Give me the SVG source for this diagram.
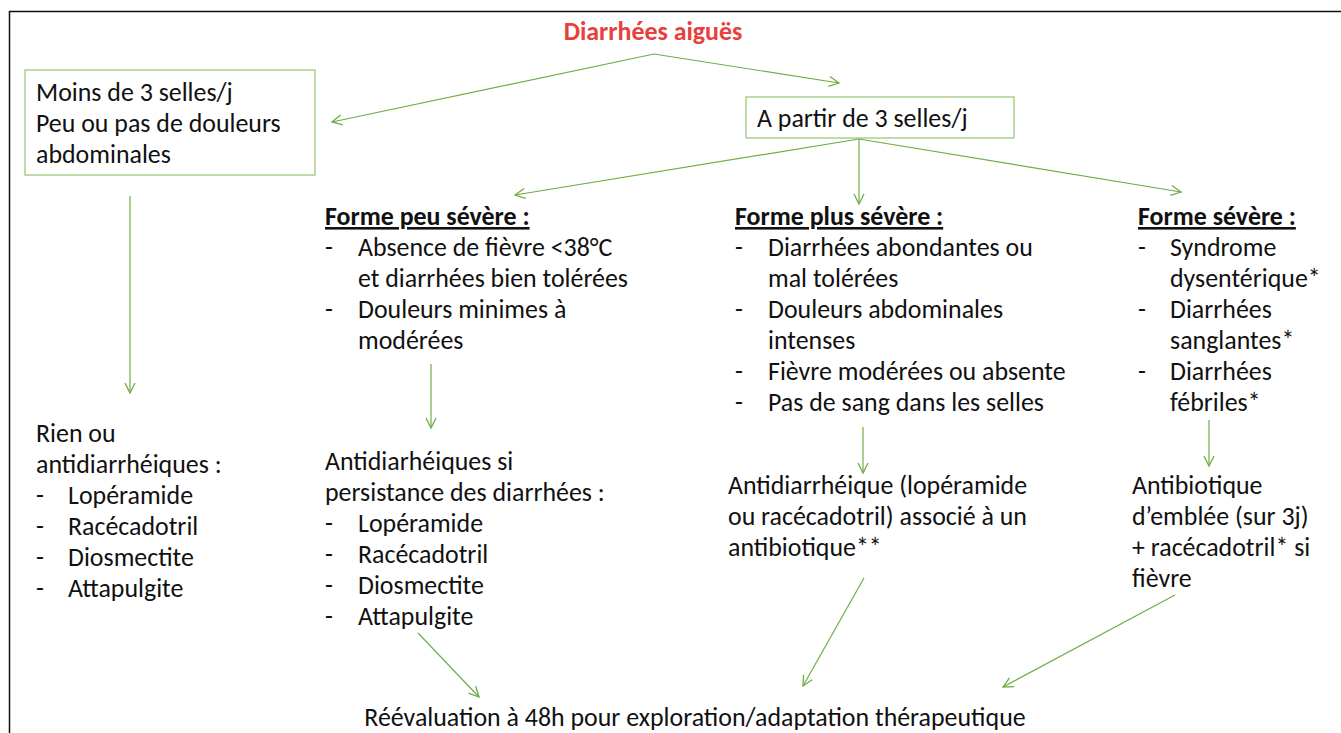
<svg xmlns="http://www.w3.org/2000/svg" width="1341" height="733" viewBox="0 0 1341 733">
<defs>
<marker id="arr" markerUnits="userSpaceOnUse" markerWidth="14" markerHeight="14" refX="11" refY="6" orient="auto">
<path d="M1,1 L11,6 L1,11" fill="none" stroke="#70AD47" stroke-width="1.3"/>
</marker>
<style>
text{font-family:Carlito,Lato,"Liberation Sans",sans-serif;font-size:25.9px;fill:#111;}
.b{font-weight:bold;}
.u{text-decoration:underline;}
.title{fill:#E8403C;font-weight:bold;}
.box{fill:none;stroke:#A9D18E;stroke-width:1.5;}
.c line{stroke:#70AD47;stroke-width:1.2;marker-end:url(#arr);}
</style>
</defs>
<rect width="1341" height="733" fill="#fff"/>
<path d="M9.5,733 V11.5 H1341" fill="none" stroke="#111" stroke-width="1.5"/>

<g id="title"><text class="title" x="653" y="40" text-anchor="middle">Diarrhées aiguës</text></g>

<g id="moins3">
<rect class="box" x="25" y="70" width="290" height="105"/>
<text x="36" y="101">Moins de 3 selles/j</text>
<text x="36" y="132">Peu ou pas de douleurs</text>
<text x="36" y="163">abdominales</text>
</g>

<g id="apartir3">
<rect class="box" x="746" y="97" width="268" height="41"/>
<text x="757" y="127">A partir de 3 selles/j</text>
</g>

<g id="rien">
<text x="36" y="442">Rien ou</text>
<text x="36" y="473">antidiarrhéiques :</text>
<text x="36" y="504">-</text><text x="68" y="504">Lopéramide</text>
<text x="36" y="535">-</text><text x="68" y="535">Racécadotril</text>
<text x="36" y="566">-</text><text x="68" y="566">Diosmectite</text>
<text x="36" y="597">-</text><text x="68" y="597">Attapulgite</text>
</g>

<g id="peusevere">
<text class="b u" x="325" y="225">Forme peu sévère :</text>
<text x="325" y="256">-</text><text x="358" y="256">Absence de fièvre &lt;38°C</text>
<text x="358" y="287">et diarrhées bien tolérées</text>
<text x="325" y="318">-</text><text x="358" y="318">Douleurs minimes à</text>
<text x="358" y="349">modérées</text>
</g>

<g id="peusevere-ttt">
<text x="325" y="470">Antidiarhéiques si</text>
<text x="325" y="501">persistance des diarrhées :</text>
<text x="325" y="532">-</text><text x="358" y="532">Lopéramide</text>
<text x="325" y="563">-</text><text x="358" y="563">Racécadotril</text>
<text x="325" y="594">-</text><text x="358" y="594">Diosmectite</text>
<text x="325" y="625">-</text><text x="358" y="625">Attapulgite</text>
</g>

<g id="plussevere">
<text class="b u" x="735" y="225">Forme plus sévère :</text>
<text x="735" y="256">-</text><text x="768" y="256">Diarrhées abondantes ou</text>
<text x="768" y="287">mal tolérées</text>
<text x="735" y="318">-</text><text x="768" y="318">Douleurs abdominales</text>
<text x="768" y="349">intenses</text>
<text x="735" y="380">-</text><text x="768" y="380">Fièvre modérées ou absente</text>
<text x="735" y="411">-</text><text x="768" y="411">Pas de sang dans les selles</text>
</g>

<g id="plussevere-ttt">
<text x="728" y="494">Antidiarrhéique (lopéramide</text>
<text x="728" y="525">ou racécadotril) associé à un</text>
<text x="728" y="556">antibiotique**</text>
</g>

<g id="severe">
<text class="b u" x="1138" y="225">Forme sévère :</text>
<text x="1138" y="256">-</text><text x="1170" y="256">Syndrome</text>
<text x="1170" y="287">dysentérique*</text>
<text x="1138" y="318">-</text><text x="1170" y="318">Diarrhées</text>
<text x="1170" y="349">sanglantes*</text>
<text x="1138" y="380">-</text><text x="1170" y="380">Diarrhées</text>
<text x="1170" y="411">fébriles*</text>
</g>

<g id="severe-ttt">
<text x="1132" y="494">Antibiotique</text>
<text x="1132" y="525">d’emblée (sur 3j)</text>
<text x="1132" y="556">+ racécadotril* si</text>
<text x="1132" y="587">fièvre</text>
</g>

<g id="reevaluation">
<text x="695" y="726" text-anchor="middle">Réévaluation à 48h pour exploration/adaptation thérapeutique</text>
</g>

<g id="connectors" class="c">
<line x1="654" y1="54" x2="332" y2="122"/>
<line x1="654" y1="54" x2="839" y2="83"/>
<line x1="859" y1="139" x2="515" y2="195"/>
<line x1="859" y1="139" x2="859" y2="204"/>
<line x1="859" y1="139" x2="1181" y2="192"/>
<line x1="130" y1="196" x2="130" y2="393"/>
<line x1="431" y1="364" x2="431" y2="428"/>
<line x1="863" y1="427" x2="863" y2="473"/>
<line x1="1209" y1="420" x2="1209" y2="466"/>
<line x1="418" y1="633" x2="479" y2="697"/>
<line x1="864" y1="578" x2="803" y2="686"/>
<line x1="1175" y1="595" x2="1003" y2="687"/>
</g>
</svg>
